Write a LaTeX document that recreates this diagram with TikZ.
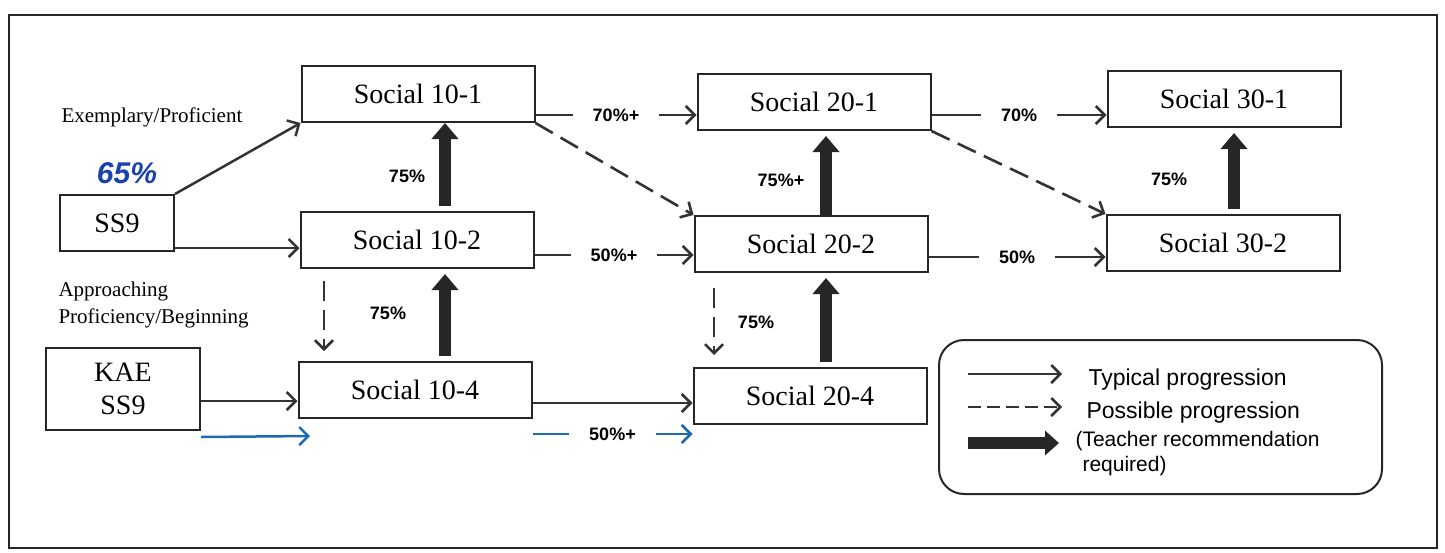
\documentclass[tikz,border=0pt]{standalone}
\usepackage{fontspec}
\setmainfont{Liberation Serif}
\newfontfamily\pctfont{Liberation Sans}
\usepackage{xcolor}
\usepackage{tikz}
\usetikzlibrary{arrows.meta}
\definecolor{penblue}{RGB}{30,105,180}
\definecolor{inkblue}{RGB}{25,65,175}
\tikzset{
    course/.style={draw=black!85, line width=2pt, minimum width=233pt, minimum height=56pt, inner sep=0pt, font=\fontsize{28}{33}\selectfont, align=center},
    typical/.style={draw=black!80, line width=2.5pt, -{Straight Barb[length=9pt,width=18pt]}},
    possible/.style={typical, dash pattern=on 20pt off 9pt},
    recommend/.style={draw=black!85, line width=12pt, -{Triangle[length=16pt,width=26pt]}, shorten <=5pt, shorten >=5pt},
    pct/.style={font=\pctfont\bfseries\fontsize{18}{20}\selectfont},
    gap/.style={pct, fill=white, inner xsep=20pt},
    note/.style={font=\fontsize{21}{27}\selectfont, align=left},
    legendtext/.style={font=\pctfont\fontsize{23}{26}\selectfont, anchor=west}
}
\begin{document}
\begin{tikzpicture}[x=1pt, y=-1pt]
    \useasboundingbox (0,0) rectangle (1445,552);
    % Outer frame
    \draw[line width=2.8pt, black!85] (9,15) rectangle (1437,548);

    % Courses
    \node[course, minimum width=114pt] (ss9) at (117,223) {SS9};
    \node[course, minimum width=154pt, minimum height=82pt] (kae) at (123,389) {KAE\\SS9};
    \node[course] (s101) at (418,94) {Social 10-1};
    \node[course] (s102) at (417,240) {Social 10-2};
    \node[course] (s104) at (415,390) {Social 10-4};
    \node[course] (s201) at (814,102) {Social 20-1};
    \node[course] (s202) at (811,244) {Social 20-2};
    \node[course] (s204) at (810,396) {Social 20-4};
    \node[course] (s301) at (1224,99) {Social 30-1};
    \node[course] (s302) at (1223,243) {Social 30-2};

    % Side notes
    \node[note, anchor=west] (exemp) at (58,117) {Exemplary/Proficient};
    \node[note, anchor=west] (approach) at (55,305) {Approaching\\Proficiency/Beginning};
    \node[font=\pctfont\bfseries\itshape\fontsize{30}{32}\selectfont, text=inkblue] (mark) at (127,173) {65\%};

    % Typical progression
    \draw[typical] (ss9.north east) -- (s101.south west);
    \draw[typical] ([yshift=4pt]ss9.south east) coordinate (t1) -- (t1 -| s102.west);
    \draw[typical] ([yshift=8pt]s101.south east) coordinate (t2) -- node[gap] {70\%+} (t2 -| s201.west);
    \draw[typical] ([yshift=14pt]s102.south east) coordinate (t3) -- node[gap] {50\%+} (t3 -| s202.west);
    \draw[typical] ([yshift=16pt]s201.south east) coordinate (t4) -- node[gap] {70\%} (t4 -| s301.west);
    \draw[typical] ([yshift=16pt]s202.south east) coordinate (t5) -- node[gap] {50\%} (t5 -| s302.west);
    \draw[typical] ([yshift=30pt]kae.south east) coordinate (t6) -- (t6 -| s104.west);
    \draw[typical] ([yshift=16pt]s104.south east) coordinate (t7) -- (t7 -| s204.west);

    % Blue pen additions
    \coordinate (b1) at (310,436);
    \draw[typical, draw=penblue] ([yshift=-6pt]kae.south east) -- (b1);
    \draw[typical, draw=penblue] ([yshift=-15pt]s104.south east) coordinate (t8) -- node[gap] {50\%+} (t8 -| s204.west);

    % Possible progression
    \draw[possible, line width=2.6pt] (s101.south east) -- (s202.north west);
    \draw[possible, line width=2.6pt] (s201.south east) -- (s302.north west);
    \draw[possible, shorten <=12pt, shorten >=10pt] ([xshift=-93pt]s102.south) coordinate (p1) -- (p1 |- s104.north);
    \draw[possible, shorten <=15pt, shorten >=12pt] ([xshift=-97pt]s202.south) coordinate (p2) -- (p2 |- s204.north);

    % Teacher recommendation
    \draw[recommend, shorten >=0pt] ([xshift=28pt]s102.north) coordinate (r1) -- (r1 |- s101.south);
    \draw[recommend] ([xshift=30pt]s104.north) coordinate (r2) -- (r2 |- s102.south);
    \draw[recommend, shorten <=0pt] ([xshift=15pt]s202.north) coordinate (r3) -- (r3 |- s201.south);
    \draw[recommend] ([xshift=16pt]s204.north) coordinate (r4) -- (r4 |- s202.south);
    \draw[recommend] ([xshift=11pt]s302.north) coordinate (r5) -- (r5 |- s301.south);
    \node[pct] (q1) at (407,176) {75\%};
    \node[pct] (q2) at (388,313) {75\%};
    \node[pct] (q3) at (781,180) {75\%+};
    \node[pct] (q4) at (756,322) {75\%};
    \node[pct] (q5) at (1169,179) {75\%};

    % Legend
    \node[draw=black!85, line width=2pt, rounded corners=25pt, minimum width=443pt, minimum height=154pt] (legend) at (1160.5,417) {};
    \coordinate (k1) at (968,374);
    \coordinate (k2) at (1062,374);
    \coordinate (k3) at (968,407);
    \coordinate (k4) at (1062,407);
    \coordinate (k5) at (968,443);
    \coordinate (k6) at (1059,443);
    \draw[typical] (k1) -- (k2);
    \draw[typical, dash pattern=on 13pt off 6pt] (k3) -- (k4);
    \draw[recommend, shorten <=0pt, shorten >=0pt, -{Triangle[length=14pt,width=24pt]}] (k5) -- (k6);
    \node[legendtext] (typ) at (1085,380) {Typical progression};
    \node[legendtext] (pos) at (1083,413) {Possible progression};
    \node[legendtext, font=\pctfont\fontsize{21}{25}\selectfont, align=left] (tea) at (1072,454) {(Teacher recommendation\\\phantom{(}required)};
\end{tikzpicture}
\end{document}
